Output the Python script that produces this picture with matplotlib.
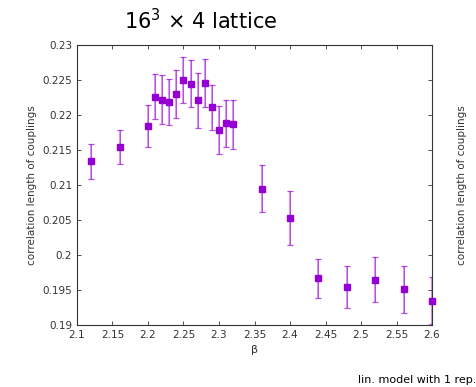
import numpy as np
import matplotlib
matplotlib.use("Agg")
import matplotlib.pyplot as plt

plt.rcParams['mathtext.fontset'] = 'dejavusans'

# data
beta = [2.12, 2.16, 2.20, 2.21, 2.22, 2.23, 2.24, 2.25, 2.26, 2.27, 2.28, 2.29,
        2.30, 2.31, 2.32, 2.36, 2.40, 2.44, 2.48, 2.52, 2.56, 2.60]
corr = [0.2134, 0.2154, 0.2184, 0.2226, 0.2222, 0.2219, 0.2230, 0.2250, 0.2245,
        0.2221, 0.2246, 0.2211, 0.2179, 0.2188, 0.2187, 0.2095, 0.2053, 0.1967,
        0.1955, 0.1965, 0.1951, 0.1935]
err = [0.0025, 0.0024, 0.0030, 0.0032, 0.0035, 0.0033, 0.0034, 0.0033, 0.0033,
       0.0039, 0.0034, 0.0032, 0.0034, 0.0034, 0.0035, 0.0033, 0.0039, 0.0028,
       0.0030, 0.0032, 0.0034, 0.0034]

col = '#9400d3'

fig = plt.figure(figsize=(4.77, 3.87), dpi=100)
ax = fig.add_axes([0.1614, 0.1602, 0.9057 - 0.1614, 0.8837 - 0.1602])

ax.errorbar(beta, corr, yerr=err, fmt='none', ecolor=col, alpha=0.4,
            elinewidth=1.5, capsize=2, capthick=1.0)
ax.errorbar(beta, corr, yerr=err, fmt='none', ecolor=col, alpha=0.55,
            elinewidth=0.6, capsize=2, capthick=0.6)
ax.plot(beta, corr, 's', color=col, markersize=4, clip_on=False, zorder=5)

ax.set_xlim(2.1, 2.6)
ax.set_ylim(0.19, 0.23)
ax.set_xticks(np.arange(2.1, 2.61, 0.05))
ax.set_xticklabels(['2.1', '2.15', '2.2', '2.25', '2.3', '2.35', '2.4', '2.45',
                    '2.5', '2.55', '2.6'])
ax.set_yticks(np.arange(0.19, 0.2301, 0.005))
ax.set_yticklabels(['0.19', '0.195', '0.2', '0.205', '0.21', '0.215', '0.22',
                    '0.225', '0.23'])
ax.tick_params(direction='in', top=True, right=True, labelsize=7.5,
               length=3, width=0.6, colors='#333333', labelcolor='#333333')
for s in ax.spines.values():
    s.set_linewidth(0.8)
    s.set_color('#333333')

ax.set_xlabel('β', fontsize=8, color='#333333')
ax.set_ylabel('correlation length of couplings', fontsize=7.5, color='#333333')
fig.text(0.969, 0.522, 'correlation length of couplings', rotation=90,
         fontsize=7.5, color='#333333', ha='center', va='center')

fig.text(0.42, 0.948, '16$^3$ × 4 lattice', fontsize=15,
         ha='center', va='center')
fig.text(0.998, 0.018, 'lin. model with 1 rep.', fontsize=8,
         ha='right', va='center')

fig.savefig('out.png', dpi=100)
